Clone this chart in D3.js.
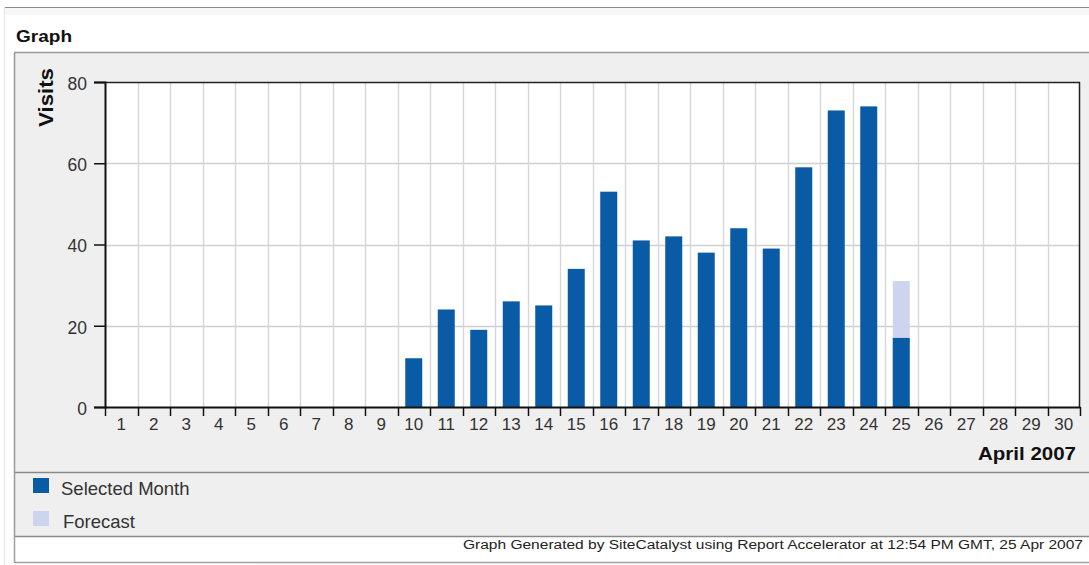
<!DOCTYPE html>
<html><head><meta charset="utf-8">
<script src="https://cdn.jsdelivr.net/npm/d3@7"></script>
<style>
html,body{margin:0;padding:0;background:#fff;}
svg{display:block;font-family:"Liberation Sans",Arial,sans-serif;}
</style></head>
<body>
<svg id="chart" width="1089" height="565"></svg>
<script>
const days = d3.range(1, 31).map(String);
const selectedMonth = [0,0,0,0,0,0,0,0,0,12,24,19,26,25,34,53,41,42,38,44,39,59,73,74,17,0,0,0,0,0];
const forecastTotal = [0,0,0,0,0,0,0,0,0,0,0,0,0,0,0,0,0,0,0,0,0,0,0,0,31,0,0,0,0,0];
const yTicks = [0,20,40,60,80];
const seriesNames = ["Selected Month","Forecast"];
const seriesColors = ["#0a5ba6","#cdd5ee"];

const svg = d3.select("#chart");
// top chrome
svg.append("rect").attr("x",4).attr("y",7).attr("width",1085).attr("height",8).attr("fill","#f7f7f7");
svg.append("line").attr("x1",4).attr("x2",1089).attr("y1",7.5).attr("y2",7.5).attr("stroke","#8a8a8a");
svg.append("line").attr("x1",4.5).attr("x2",4.5).attr("y1",7).attr("y2",565).attr("stroke","#e4e4e4");
svg.append("text").attr("x",16).attr("y",42).attr("font-size",16.5).attr("font-weight","bold").attr("fill","#111")
  .attr("textLength",56).attr("lengthAdjust","spacingAndGlyphs").text("Graph");

// panel
svg.append("rect").attr("x",14).attr("y",52).attr("width",1080).attr("height",484).attr("fill","#efefef");
svg.append("rect").attr("x",14).attr("y",536).attr("width",1080).attr("height",27).attr("fill","#fff");
svg.append("rect").attr("x",14.5).attr("y",52.5).attr("width",1080).attr("height",510)
  .attr("fill","none").attr("stroke","#444").attr("stroke-dasharray","1,1").attr("stroke-width",1.5);
svg.append("line").attr("x1",15).attr("x2",1089).attr("y1",472.5).attr("y2",472.5).attr("stroke","#8a8a8a").attr("stroke-width",1.5);
svg.append("line").attr("x1",15).attr("x2",1089).attr("y1",536.5).attr("y2",536.5).attr("stroke","#8a8a8a").attr("stroke-width",1.5);

const L=105, R=1080, T=82, B=407;
const x = d3.scaleBand().domain(days).range([L,R]).paddingInner(0).paddingOuter(0);
const y = d3.scaleLinear().domain([0,80]).range([B,T]);

svg.append("rect").attr("x",L).attr("y",T).attr("width",R-L).attr("height",B-T).attr("fill","#fff");

// gridlines
svg.append("g").selectAll("line").data(yTicks.filter(d=>d>0&&d<80)).join("line")
  .attr("x1",L).attr("x2",R).attr("y1",d=>Math.round(y(d))+0.5).attr("y2",d=>Math.round(y(d))+0.5)
  .attr("stroke","#cfcfcf").attr("stroke-width",1.4);
svg.append("g").selectAll("line").data(days.slice(1)).join("line")
  .attr("x1",d=>Math.round(x(d))+0.5).attr("x2",d=>Math.round(x(d))+0.5).attr("y1",T).attr("y2",B)
  .attr("stroke","#d6d6d6").attr("stroke-width",1.4);

// bars
const bw = 17;
const bars = svg.append("g");
bars.selectAll("rect.f").data(days.filter((d,i)=>forecastTotal[i]>0)).join("rect").attr("class","f")
  .attr("x",d=>x(d)+x.bandwidth()/2-bw/2).attr("width",bw)
  .attr("y",d=>y(forecastTotal[+d-1])).attr("height",d=>y(0)-y(forecastTotal[+d-1]))
  .attr("fill",seriesColors[1]);
bars.selectAll("rect.s").data(days.filter((d,i)=>selectedMonth[i]>0)).join("rect").attr("class","s")
  .attr("x",d=>x(d)+x.bandwidth()/2-bw/2).attr("width",bw)
  .attr("y",d=>y(selectedMonth[+d-1])).attr("height",d=>y(0)-y(selectedMonth[+d-1]))
  .attr("fill",seriesColors[0]);

// frame
svg.append("line").attr("x1",L).attr("x2",R).attr("y1",T+0.5).attr("y2",T+0.5).attr("stroke","#222").attr("stroke-width",1.5);
svg.append("line").attr("x1",R-0.5).attr("x2",R-0.5).attr("y1",T).attr("y2",B).attr("stroke","#222").attr("stroke-width",1.5);

// y axis
const yAxis = svg.append("g").attr("transform",`translate(${L},0)`)
  .call(d3.axisLeft(y).tickValues(yTicks).tickSize(11).tickPadding(7));
yAxis.select(".domain").attr("stroke","#111").attr("stroke-width",2);
yAxis.selectAll(".tick line").attr("stroke","#111").attr("stroke-width",1.5);
yAxis.selectAll("text").attr("font-size",17.5).attr("dy","0.42em").attr("fill","#333").attr("font-family","Liberation Sans, Arial, sans-serif");

// x axis
const xAxis = svg.append("g").attr("transform",`translate(0,${B})`)
  .call(d3.axisBottom(x).tickSize(0).tickPadding(11));
xAxis.select(".domain").attr("stroke","#111").attr("stroke-width",2);
xAxis.selectAll("text").attr("font-size",17).attr("fill","#333").attr("font-family","Liberation Sans, Arial, sans-serif");
xAxis.selectAll(".tickmark").data(days.concat(["end"])).join("line").attr("class","tickmark")
  .attr("x1",(d,i)=>Math.round(L+i*x.step())+0.5).attr("x2",(d,i)=>Math.round(L+i*x.step())+0.5)
  .attr("y1",0).attr("y2",9).attr("stroke","#111").attr("stroke-width",1.5);

// axis titles
svg.append("text").attr("transform","translate(53,97.5) rotate(-90)").attr("text-anchor","middle")
  .attr("font-size",20).attr("font-weight","bold").attr("fill","#111")
  .attr("textLength",59).attr("lengthAdjust","spacingAndGlyphs").text("Visits");
svg.append("text").attr("x",1076).attr("y",460).attr("text-anchor","end")
  .attr("font-size",19).attr("font-weight","bold").attr("fill","#111")
  .attr("textLength",98).attr("lengthAdjust","spacingAndGlyphs").text("April 2007");

// legend
const lg = svg.append("g").selectAll("g").data(seriesNames).join("g")
  .attr("transform",(d,i)=>`translate(33,${478+i*33})`);
lg.append("rect").attr("width",16).attr("height",15).attr("fill",(d,i)=>seriesColors[i]);
lg.append("text").attr("x",(d,i)=>28+i*2).attr("y",(d,i)=>17+i*0).attr("font-size",18.5).attr("fill","#333").text(d=>d);

// footer
svg.append("text").attr("x",463).attr("y",549).attr("font-size",12.5).attr("fill","#222")
  .attr("textLength",620).attr("lengthAdjust","spacingAndGlyphs")
  .text("Graph Generated by SiteCatalyst using Report Accelerator at 12:54 PM GMT, 25 Apr 2007");
</script>
</body></html>
